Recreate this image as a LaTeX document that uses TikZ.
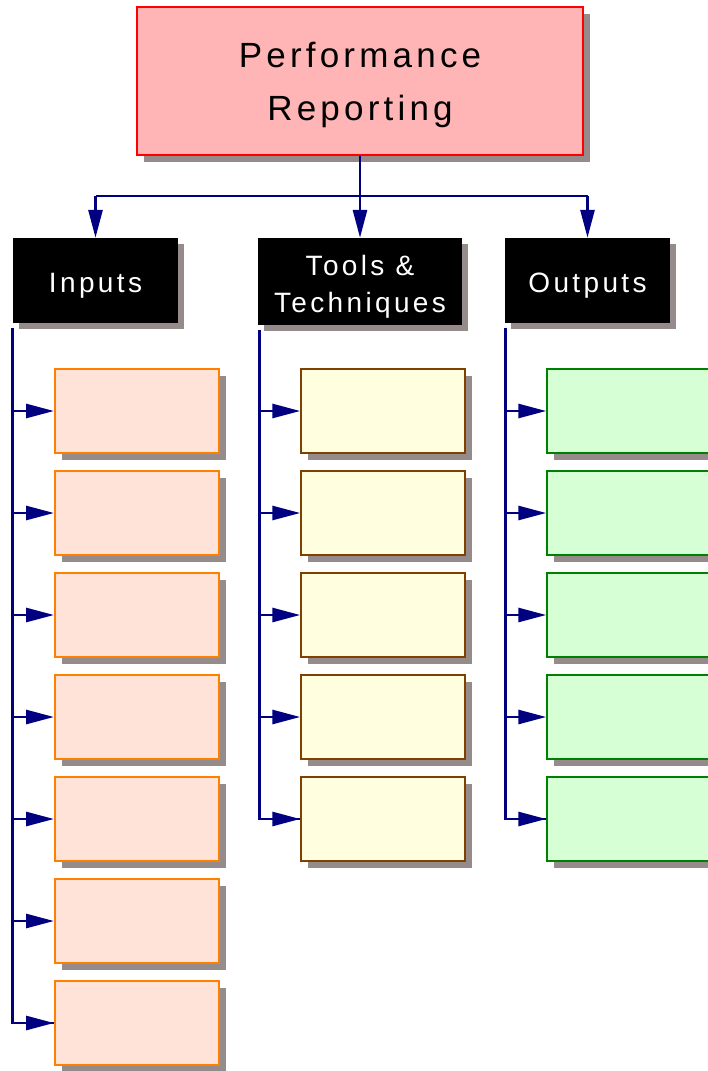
\documentclass[tikz,border=0pt]{standalone}
\usepackage{fontspec}
\newfontfamily\lab[LetterSpace=12]{Liberation Sans}
\usetikzlibrary{arrows.meta,shadows}
\definecolor{shg}{HTML}{968B8B}
\definecolor{navy}{HTML}{000080}
\definecolor{tfill}{HTML}{FFB5B5}
\definecolor{ifill}{HTML}{FFE3D8}
\definecolor{iline}{HTML}{FF8000}
\definecolor{ofill}{HTML}{FFFFE0}
\definecolor{oline}{HTML}{7F4000}
\definecolor{gfill}{HTML}{D6FFD6}
\definecolor{gline}{HTML}{008000}
\tikzset{
  shad/.style={drop shadow={shadow xshift=#1, shadow yshift=-#1, fill=shg, opacity=1}},
  titlebox/.style={draw=red, line width=2pt, fill=tfill, shad=7pt, inner sep=0pt,
    minimum width=446pt, minimum height=148pt},
  titletext/.style={align=center, inner sep=0pt, font=\lab\fontsize{35}{53}\selectfont},
  headbox/.style={fill=black, shad=6pt, inner sep=0pt, minimum height=85pt},
  headtext/.style={text=white, align=center, inner sep=0pt,
    font=\lab\fontsize{28}{37}\selectfont},
  inbox/.style={draw=iline, line width=2pt, fill=ifill, shad=7pt, inner sep=0pt,
    minimum width=164pt, minimum height=84pt},
  toolbox/.style={draw=oline, line width=1.5pt, fill=ofill, shad=7pt, inner sep=0pt,
    minimum width=164pt, minimum height=84pt},
  outbox/.style={draw=gline, line width=1.5pt, fill=gfill, shad=7pt, inner sep=0pt,
    minimum width=164pt, minimum height=84pt},
  conn/.style={draw=navy, line width=2.8pt},
  arr/.style={conn, -{Triangle[length=28pt, width=14pt]}}
}
\begin{document}
\begin{tikzpicture}[x=1pt,y=-1pt]
\useasboundingbox (0,0) rectangle (707,1071);
\node[titlebox] (title) at (360,81) {};
\node[titletext] (titlet) at ([yshift=-3.5pt]title.center) {Performance\\Reporting};
\node[headbox, minimum width=165pt] (inp) at (95.5,280.5) {};
\node[headtext] (inpt) at ([yshift=-5pt]inp.center) {Inputs};
\node[headbox, minimum width=204pt, minimum height=87pt] (tool) at (360,281.5) {};
\node[headtext] (toolt) at ([yshift=-5pt]tool.center) {Tools \&\\Techniques};
\node[headbox, minimum width=165pt] (outp) at (587.5,280.5) {};
\node[headtext] (outpt) at ([yshift=-5pt]outp.center) {Outputs};

\foreach \k/\y in {1/411,2/513,3/615,4/717,5/819,6/921,7/1023}
  \node[inbox] (i\k) at (137,\y) {};
\foreach \k/\y in {1/411,2/513,3/615,4/717,5/819}
  \node[toolbox] (t\k) at (383,\y) {};
\foreach \k/\y in {1/411,2/513,3/615,4/717,5/819}
  \node[outbox] (o\k) at (629,\y) {};

\coordinate (bar) at (360,196);
\draw[conn] (title.south) -- (bar);
\draw[conn] (bar -| inp.north) -- (bar -| outp.north);
\draw[arr] (bar -| inp.north) -- (inp.north);
\draw[arr] (bar -| tool.north) -- (tool.north);
\draw[arr] (bar -| outp.north) -- (outp.north);

\coordinate (ia) at ([yshift=-5pt]inp.south west);
\coordinate (ta) at ([xshift=2pt,yshift=-5pt]tool.south west);
\coordinate (oa) at ([xshift=1pt,yshift=-5pt]outp.south west);
\draw[conn] (ia) |- (i7.west);
\draw[conn] (ta) |- (t5.west);
\draw[conn] (oa) |- (o5.west);
\foreach \k in {1,...,7} \draw[arr] (ia |- i\k.west) -- (i\k.west);
\foreach \k in {1,...,5} \draw[arr] (ta |- t\k.west) -- (t\k.west);
\foreach \k in {1,...,5} \draw[arr] (oa |- o\k.west) -- (o\k.west);
\end{tikzpicture}
\end{document}
